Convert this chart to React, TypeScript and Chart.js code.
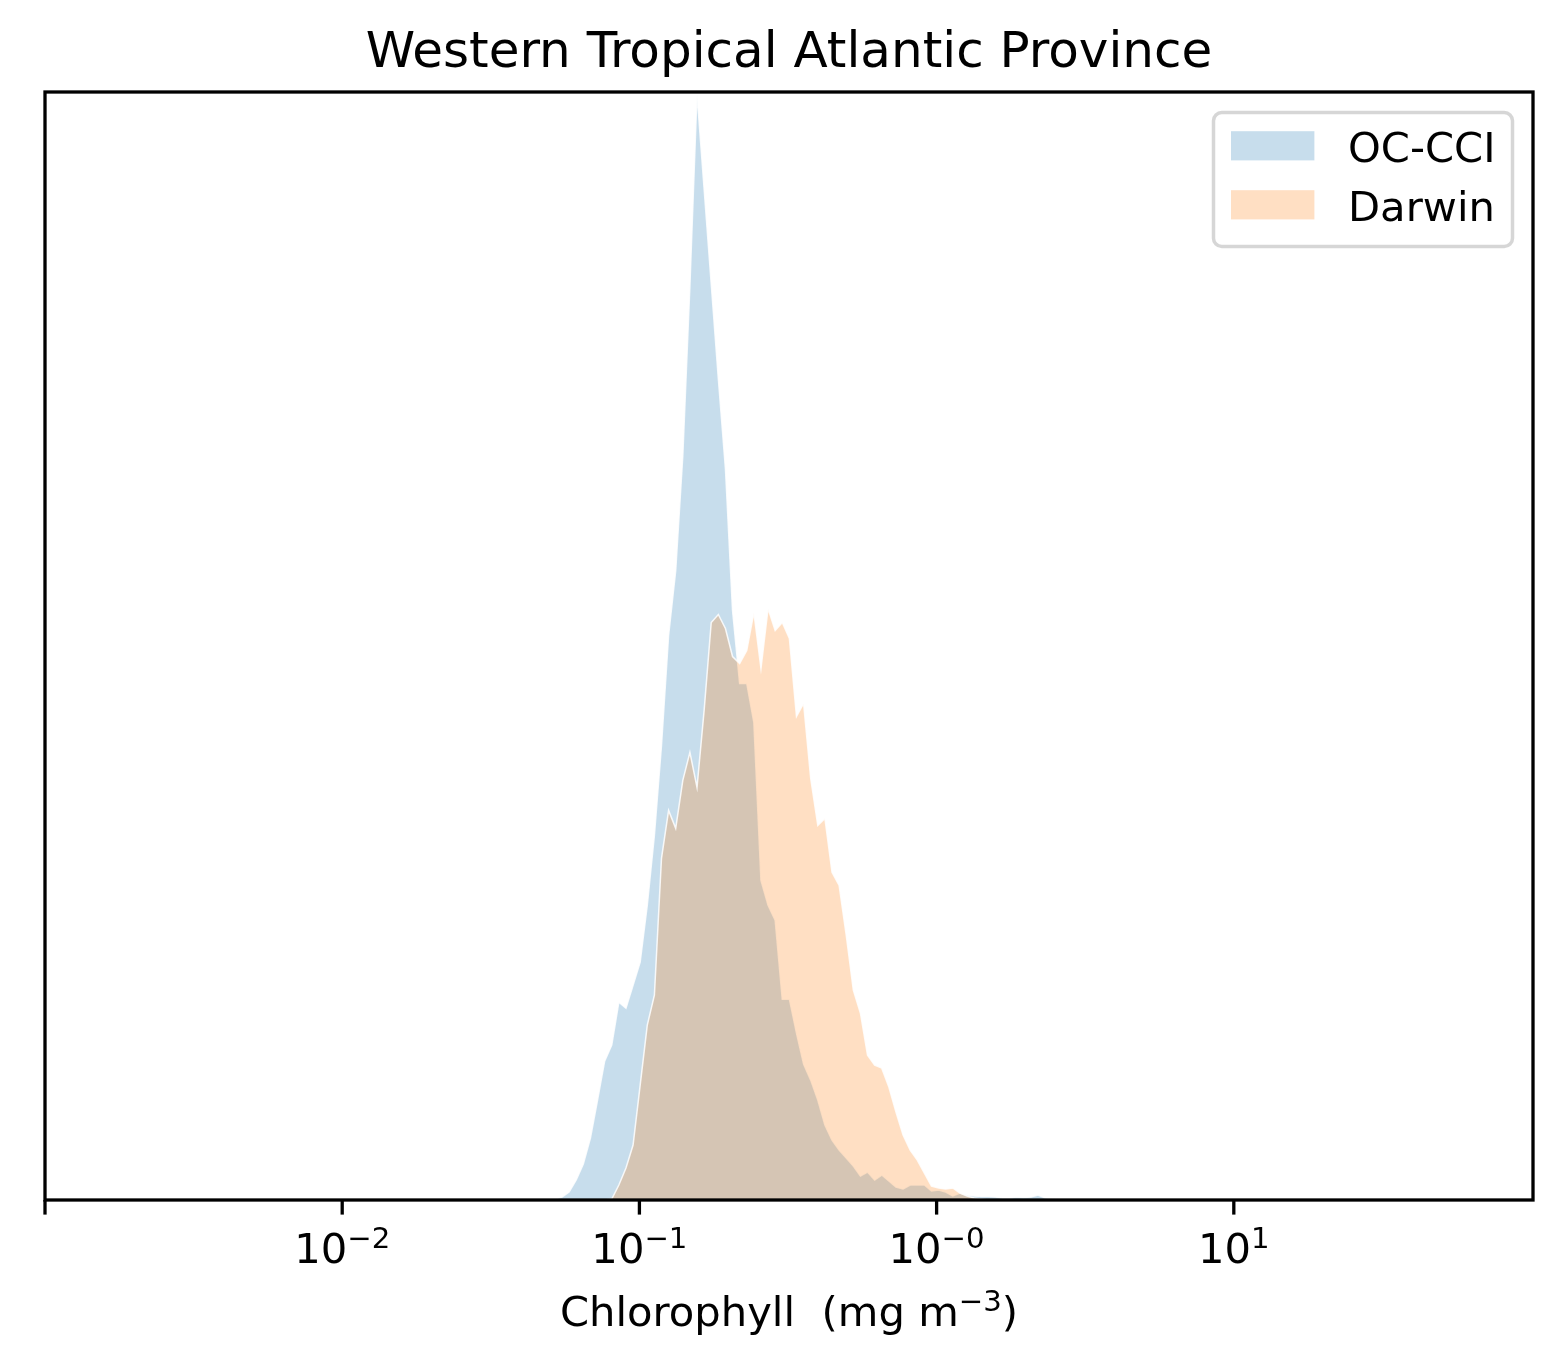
import React, { useEffect, useRef } from "react";
import { Chart, registerables } from "chart.js";

Chart.register(...registerables);

// Histogram bins on a log10 grid (bin centres, chlorophyll mg m^-3)
const BIN_LOG10_START = -1.2843;
const BIN_LOG10_STEP = 0.023907;

// Relative frequency (arbitrary density units)
const ocCci = [
  0.01, 0.03, 0.08, 0.2, 0.36, 0.62, 1.0, 1.39, 1.55, 1.98,
  1.92, 2.15, 2.38, 2.95, 3.65, 4.55, 5.65, 6.3, 7.45, 9.15,
  11.07, 10.12, 9.17, 8.22, 7.32, 5.9, 5.17, 5.17, 4.78, 3.2,
  2.95, 2.8, 2.01, 2.01, 1.67, 1.36, 1.2, 1.0, 0.75, 0.6,
  0.5, 0.42, 0.34, 0.24, 0.28, 0.2, 0.25, 0.19, 0.13, 0.11,
  0.15, 0.15, 0.15, 0.09, 0.1, 0.08, 0.04, 0.07, 0.05, 0.04,
  0.035, 0.035, 0.03, 0.02, 0.02, 0.03, 0.025, 0.03, 0.05, 0.02,
  0.015, 0.01, 0.005, 0,
];

const darwin = [
  0, 0, 0, 0, 0, 0, 0, 0, 0.01, 0.15,
  0.32, 0.55, 1.15, 1.75, 2.05, 3.42, 3.9, 3.72, 4.2, 4.48,
  4.13, 4.9, 5.78, 5.86, 5.72, 5.44, 5.37, 5.5, 5.88, 5.32,
  5.92, 5.7, 5.78, 5.62, 4.84, 4.97, 4.22, 3.75, 3.82, 3.28,
  3.15, 2.65, 2.1, 1.87, 1.45, 1.35, 1.32, 1.13, 0.88, 0.65,
  0.5, 0.4, 0.27, 0.14, 0.12, 0.11, 0.12, 0.07, 0.04, 0.02,
  0.01, 0, 0, 0, 0, 0, 0, 0, 0, 0,
  0, 0, 0, 0,
];

const seriesNames = ["OC-CCI", "Darwin"];
const xTickValues = [1e-3, 1e-2, 1e-1, 1, 10];
const xTickExponents = ["", "\u22122", "\u22121", "\u22120", "1"];
const X_MIN = 1e-3;
const X_MAX = 101.55;
const Y_MAX = 11.09;

const TITLE = "Western Tropical Atlantic Province";
const XLABEL_MAIN = "Chlorophyll  (mg m";
const XLABEL_SUP = "\u22123";
const XLABEL_END = ")";

const BLUE_FILL = "rgba(31,119,180,0.25)";
const ORANGE_FILL = "rgba(255,127,14,0.25)";
const FONT = '"DejaVu Sans", "Liberation Sans", sans-serif';

const binCentres = ocCci.map((_, i) => Math.pow(10, BIN_LOG10_START + i * BIN_LOG10_STEP));

const decorations = {
  id: "decorations",
  afterDraw(chart: any) {
    const ctx: CanvasRenderingContext2D = chart.ctx;
    const { left, right, top, bottom } = chart.chartArea;
    const xs = chart.scales.x;
    const base = 41.7;
    const sup = 29.2;
    ctx.save();
    // spines
    ctx.strokeStyle = "#000";
    ctx.lineWidth = 3.3;
    ctx.strokeRect(left, top, right - left, bottom - top);

    // ticks and labels
    ctx.fillStyle = "#000";
    ctx.textAlign = "left";
    ctx.textBaseline = "alphabetic";
    xTickValues.forEach((v, i) => {
      const px = xs.getPixelForValue(v);
      ctx.beginPath();
      ctx.moveTo(px, bottom);
      ctx.lineTo(px, bottom + 14.6);
      ctx.stroke();
      const exp = xTickExponents[i];
      if (!exp) return;
      ctx.font = `${base}px ${FONT}`;
      const w1 = ctx.measureText("10").width;
      ctx.font = `${sup}px ${FONT}`;
      const w2 = ctx.measureText(exp).width;
      const x0 = px - (w1 + w2) / 2;
      ctx.font = `${base}px ${FONT}`;
      ctx.fillText("10", x0, 1263);
      ctx.font = `${sup}px ${FONT}`;
      ctx.fillText(exp, x0 + w1, 1248);
    });

    // x label
    ctx.font = `${base}px ${FONT}`;
    const a = ctx.measureText(XLABEL_MAIN).width;
    const c = ctx.measureText(XLABEL_END).width;
    ctx.font = `${sup}px ${FONT}`;
    const b = ctx.measureText(XLABEL_SUP).width;
    const cx = (left + right) / 2;
    let x = cx - (a + b + c) / 2;
    ctx.font = `${base}px ${FONT}`;
    ctx.fillText(XLABEL_MAIN, x, 1326);
    x += a;
    ctx.font = `${sup}px ${FONT}`;
    ctx.fillText(XLABEL_SUP, x, 1311);
    x += b;
    ctx.font = `${base}px ${FONT}`;
    ctx.fillText(XLABEL_END, x, 1326);

    // title
    ctx.font = `50px ${FONT}`;
    ctx.textAlign = "center";
    ctx.fillText(TITLE, cx, 67);

    // legend
    const lx = 1213.5, ly = 112.5, lw = 299, lh = 134, r = 8.3;
    ctx.beginPath();
    ctx.roundRect(lx, ly, lw, lh, r);
    ctx.fillStyle = "rgba(255,255,255,0.8)";
    ctx.fill();
    ctx.strokeStyle = "rgba(204,204,204,0.8)";
    ctx.lineWidth = 3.5;
    ctx.stroke();
    const fills = [BLUE_FILL, ORANGE_FILL];
    const baselines = [161.7, 220.7];
    ctx.textAlign = "left";
    ctx.font = `${base}px ${FONT}`;
    seriesNames.forEach((name, i) => {
      ctx.fillStyle = fills[i];
      ctx.fillRect(1231, baselines[i] - 30.5, 83.4, 29.2);
      ctx.fillStyle = "#000";
      ctx.fillText(name, 1348, baselines[i]);
    });
    ctx.restore();
  },
};

export default function App() {
  const ref = useRef<HTMLCanvasElement | null>(null);
  useEffect(() => {
    if (!ref.current) return;
    const chart = new Chart(ref.current, {
      type: "line",
      data: {
        datasets: [
          {
            label: seriesNames[0],
            data: binCentres.map((x, i) => ({ x, y: ocCci[i] })),
            backgroundColor: BLUE_FILL,
            borderColor: "rgba(255,255,255,0.85)",
            borderWidth: 1.5,
            fill: "origin",
            pointRadius: 0,
            tension: 0,
            order: 2,
          },
          {
            label: seriesNames[1],
            data: binCentres.map((x, i) => ({ x, y: darwin[i] })),
            backgroundColor: ORANGE_FILL,
            borderColor: "rgba(255,255,255,0.85)",
            borderWidth: 1.5,
            fill: "origin",
            pointRadius: 0,
            tension: 0,
            order: 1,
          },
        ],
      },
      options: {
        animation: false,
        responsive: false,
        devicePixelRatio: 1,
        layout: { padding: { left: 45, top: 92, right: 29, bottom: 168 } },
        scales: {
          x: { type: "logarithmic", min: X_MIN, max: X_MAX, display: false },
          y: { type: "linear", min: 0, max: Y_MAX, display: false },
        },
        plugins: {
          legend: { display: false },
          title: { display: false },
          tooltip: { enabled: false },
        },
      },
      plugins: [decorations],
    } as any);
    return () => chart.destroy();
  }, []);
  return (
    <canvas
      ref={ref}
      width={1562}
      height={1368}
      style={{ position: "fixed", left: 0, top: 0, width: 1562, height: 1368, display: "block" }}
    />
  );
}
